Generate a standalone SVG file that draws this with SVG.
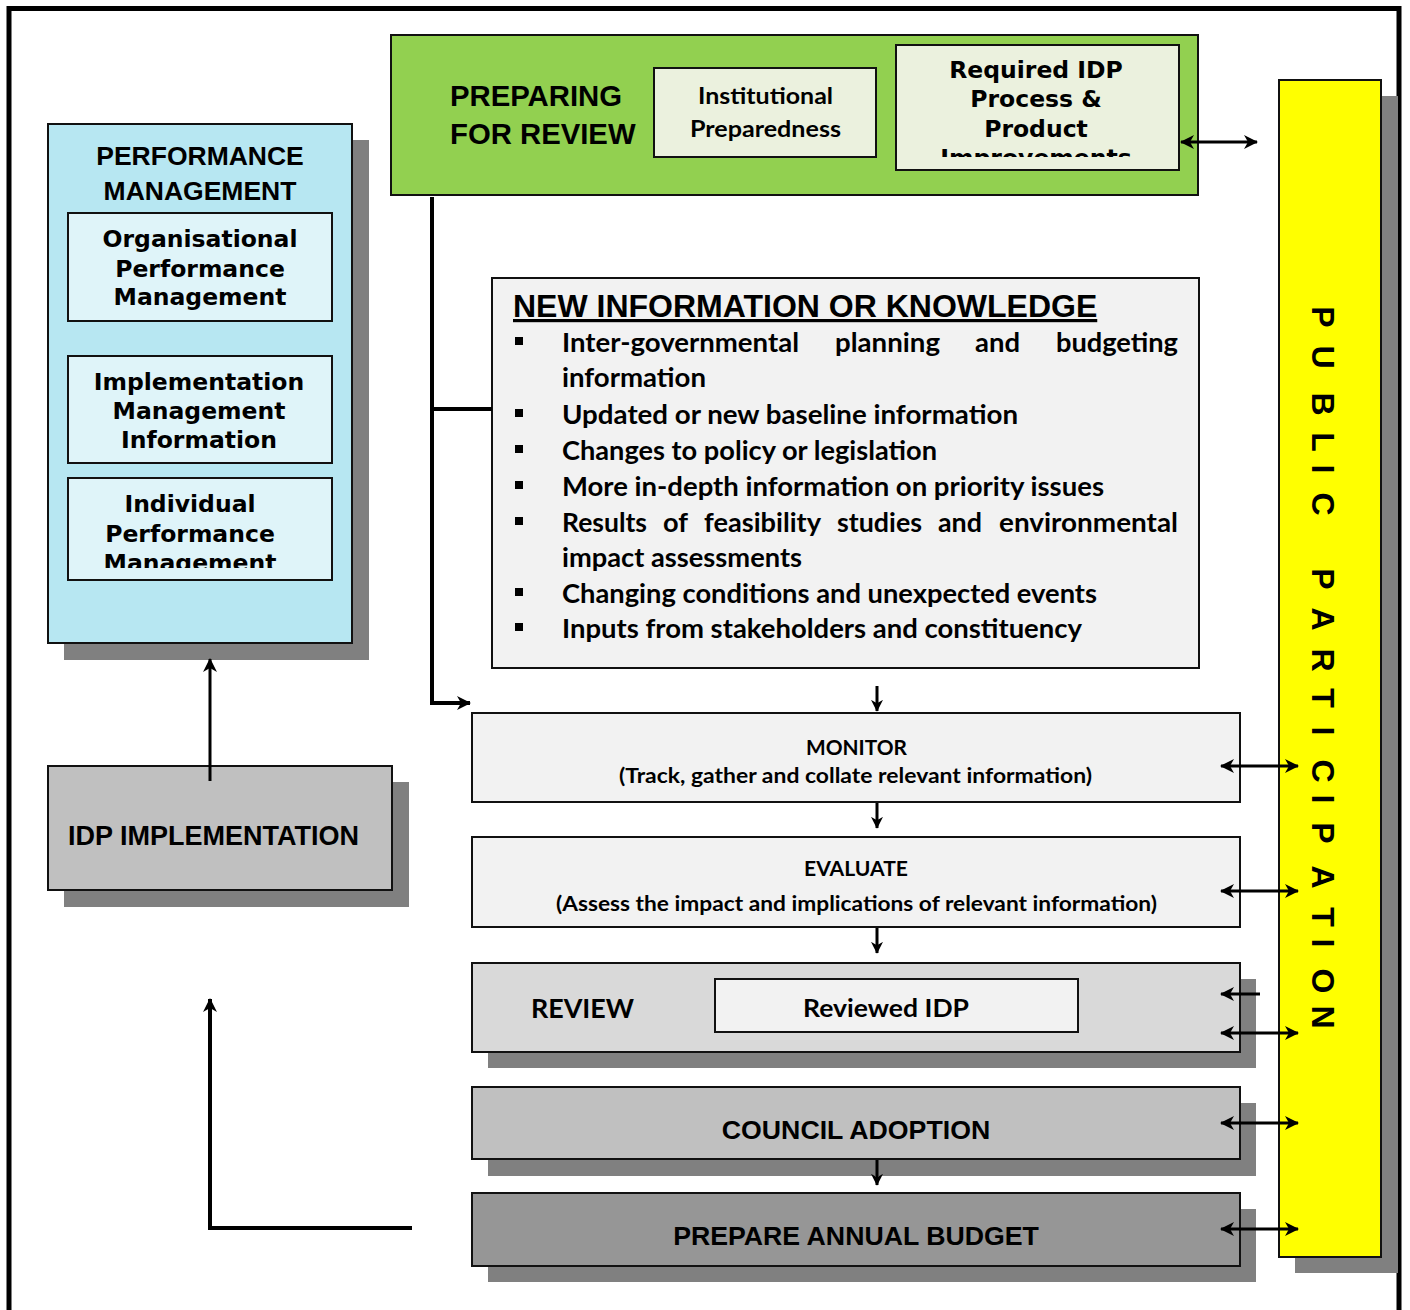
<svg xmlns="http://www.w3.org/2000/svg" width="1410" height="1310" viewBox="0 0 1410 1310">
  <defs>
    <style>
      .box { stroke: #111; stroke-width: 2; }
      .shadow { fill: #808080; }
      .v { font-family: "DejaVu Sans", Verdana, sans-serif; font-weight: bold; font-size: 23.5px; text-anchor: middle; fill: #000; }
      .a { font-family: "Liberation Sans", Arial, sans-serif; font-weight: bold; fill: #000; }
      .c { font-family: Lato, "Liberation Sans", sans-serif; font-weight: bold; fill: #000; }
      .conn { fill: none; stroke: #000; stroke-width: 3; }
      .thick { stroke-width: 4; }
    </style>
    <marker id="arrow" viewBox="0 0 14 14" refX="13" refY="7" markerWidth="14" markerHeight="14" markerUnits="userSpaceOnUse" orient="auto-start-reverse">
      <path d="M0,0 L14,7 L0,14 L4,7 z" fill="#000"/>
    </marker>
    <marker id="arrowSmall" viewBox="0 0 14 14" refX="13" refY="7" markerWidth="12" markerHeight="12" markerUnits="userSpaceOnUse" orient="auto-start-reverse">
      <path d="M0,0 L14,7 L0,14 L4,7 z" fill="#000"/>
    </marker>
    <clipPath id="clipRequired"><rect x="896" y="45" width="280" height="112"/></clipPath>
    <clipPath id="clipIndividual"><rect x="69" y="479" width="262" height="89"/></clipPath>
  </defs>

  <rect x="0" y="0" width="1410" height="1310" fill="#fff"/>
  <!-- page frame, open at the bottom -->
  <rect x="9" y="8.5" width="1390" height="1330" fill="none" stroke="#000" stroke-width="5"/>

  <!-- Performance management panel -->
  <g id="performance-management">
    <rect class="shadow" x="64" y="140" width="305" height="520"/>
    <rect class="box" x="48" y="124" width="304" height="519" fill="#b7e7f2"/>
    <text class="a" x="200" y="165" font-size="26.5" text-anchor="middle">PERFORMANCE</text>
    <text class="a" x="200" y="200" font-size="26.5" text-anchor="middle">MANAGEMENT</text>
  </g>
  <g id="organisational-performance">
    <rect class="box" x="68" y="213" width="264" height="108" fill="#dff4f9"/>
    <text class="v" x="200" y="247">Organisational</text>
    <text class="v" x="200" y="277">Performance</text>
    <text class="v" x="200" y="305">Management</text>
  </g>
  <g id="implementation-information">
    <rect class="box" x="68" y="356" width="264" height="107" fill="#dff4f9"/>
    <text class="v" x="199" y="390">Implementation</text>
    <text class="v" x="199" y="419">Management</text>
    <text class="v" x="199" y="448">Information</text>
  </g>
  <g id="individual-performance">
    <rect class="box" x="68" y="478" width="264" height="102" fill="#dff4f9"/>
    <g clip-path="url(#clipIndividual)">
      <text class="v" x="190" y="512">Individual</text>
      <text class="v" x="190" y="542">Performance</text>
      <text class="v" x="190" y="571">Management</text>
    </g>
  </g>

  <!-- IDP implementation -->
  <g id="idp-implementation">
    <rect class="shadow" x="64" y="782" width="345" height="125"/>
    <rect class="box" x="48" y="766" width="344" height="124" fill="#c0c0c0"/>
    <text class="a" x="68" y="845" font-size="27">IDP IMPLEMENTATION</text>
  </g>

  <!-- Preparing for review -->
  <g id="preparing-for-review">
    <rect class="box" x="391" y="35" width="807" height="160" fill="#92d050"/>
    <text class="a" x="450" y="106" font-size="29.3">PREPARING</text>
    <text class="a" x="450" y="144" font-size="29.3">FOR REVIEW</text>
  </g>
  <g id="institutional-preparedness">
    <rect class="box" x="654" y="68" width="222" height="89" fill="#ebf1de"/>
    <text class="c" x="698" y="104" font-size="23.5" textLength="135" lengthAdjust="spacingAndGlyphs">Institutional</text>
    <text class="c" x="690" y="137" font-size="23.5" textLength="151" lengthAdjust="spacingAndGlyphs">Preparedness</text>
  </g>
  <g id="required-improvements">
    <rect class="box" x="896" y="45" width="283" height="125" fill="#ebf1de"/>
    <g clip-path="url(#clipRequired)">
      <text class="v" x="1036" y="78">Required IDP</text>
      <text class="v" x="1036" y="107">Process &amp;</text>
      <text class="v" x="1036" y="137">Product</text>
      <text class="v" x="1036" y="166">Improvements</text>
    </g>
  </g>

  <!-- New information or knowledge -->
  <g id="new-information">
    <rect class="box" x="492" y="278" width="707" height="390" fill="#f2f2f2"/>
    <text class="a" x="513" y="317" font-size="32" text-decoration="underline">NEW INFORMATION OR KNOWLEDGE</text>
    <g fill="#000">
      <rect x="515" y="337" width="8" height="8"/>
      <rect x="515" y="409" width="8" height="8"/>
      <rect x="515" y="445" width="8" height="8"/>
      <rect x="515" y="481" width="8" height="8"/>
      <rect x="515" y="517" width="8" height="8"/>
      <rect x="515" y="588" width="8" height="8"/>
      <rect x="515" y="623" width="8" height="8"/>
    </g>
    <g font-size="26.5">
      <text class="c" x="562" y="352" textLength="237" lengthAdjust="spacingAndGlyphs">Inter-governmental</text>
      <text class="c" x="835" y="352" textLength="105" lengthAdjust="spacingAndGlyphs">planning</text>
      <text class="c" x="975" y="352" textLength="45" lengthAdjust="spacingAndGlyphs">and</text>
      <text class="c" x="1056" y="352" textLength="122" lengthAdjust="spacingAndGlyphs">budgeting</text>
      <text class="c" x="562" y="387" textLength="144" lengthAdjust="spacingAndGlyphs">information</text>
      <text class="c" x="562" y="424" textLength="456" lengthAdjust="spacingAndGlyphs">Updated or new baseline information</text>
      <text class="c" x="562" y="460" textLength="375" lengthAdjust="spacingAndGlyphs">Changes to policy or legislation</text>
      <text class="c" x="562" y="496" textLength="542" lengthAdjust="spacingAndGlyphs">More in-depth information on priority issues</text>
      <text class="c" x="562" y="532" textLength="85" lengthAdjust="spacingAndGlyphs">Results</text>
      <text class="c" x="663" y="532" textLength="25" lengthAdjust="spacingAndGlyphs">of</text>
      <text class="c" x="704" y="532" textLength="117" lengthAdjust="spacingAndGlyphs">feasibility</text>
      <text class="c" x="837" y="532" textLength="85" lengthAdjust="spacingAndGlyphs">studies</text>
      <text class="c" x="938" y="532" textLength="44" lengthAdjust="spacingAndGlyphs">and</text>
      <text class="c" x="999" y="532" textLength="179" lengthAdjust="spacingAndGlyphs">environmental</text>
      <text class="c" x="562" y="567" textLength="240" lengthAdjust="spacingAndGlyphs">impact assessments</text>
      <text class="c" x="562" y="603" textLength="535" lengthAdjust="spacingAndGlyphs">Changing conditions and unexpected events</text>
      <text class="c" x="562" y="638" textLength="520" lengthAdjust="spacingAndGlyphs">Inputs from stakeholders and constituency</text>
    </g>
  </g>

  <!-- Review cycle -->
  <g id="monitor">
    <rect class="box" x="472" y="713" width="768" height="89" fill="#f2f2f2"/>
    <text class="c" x="806" y="755" font-size="20" textLength="101" lengthAdjust="spacingAndGlyphs">MONITOR</text>
    <text class="c" x="619" y="783" font-size="20" textLength="473" lengthAdjust="spacingAndGlyphs">(Track, gather and collate relevant information)</text>
  </g>
  <g id="evaluate">
    <rect class="box" x="472" y="837" width="768" height="90" fill="#f2f2f2"/>
    <text class="c" x="804" y="876" font-size="20" textLength="104" lengthAdjust="spacingAndGlyphs">EVALUATE</text>
    <text class="c" x="556" y="911" font-size="20" textLength="601" lengthAdjust="spacingAndGlyphs">(Assess the impact and implications of relevant information)</text>
  </g>
  <g id="review">
    <rect class="shadow" x="488" y="979" width="768" height="89"/>
    <rect class="box" x="472" y="963" width="768" height="89" fill="#d9d9d9"/>
    <text class="c" x="531" y="1018" font-size="27" textLength="103" lengthAdjust="spacingAndGlyphs">REVIEW</text>
  </g>
  <g id="reviewed-idp">
    <rect class="box" x="715" y="979" width="363" height="53" fill="#f2f2f2"/>
    <text class="c" x="803" y="1017" font-size="25" textLength="166" lengthAdjust="spacingAndGlyphs">Reviewed IDP</text>
  </g>
  <g id="council-adoption">
    <rect class="shadow" x="488" y="1103" width="768" height="73"/>
    <rect class="box" x="472" y="1087" width="768" height="72" fill="#c0c0c0"/>
    <text class="a" x="856" y="1139" font-size="26.7" text-anchor="middle">COUNCIL ADOPTION</text>
  </g>
  <g id="annual-budget">
    <rect class="shadow" x="488" y="1209" width="768" height="73"/>
    <rect class="box" x="472" y="1193" width="768" height="73" fill="#969696"/>
    <text class="a" x="856" y="1245" font-size="26.7" text-anchor="middle">PREPARE ANNUAL BUDGET</text>
  </g>

  <!-- Public participation bar -->
  <g id="public-participation">
    <rect class="shadow" x="1295" y="96" width="103" height="1177"/>
    <rect class="box" x="1279" y="80" width="102" height="1177" fill="#ffff00"/>
    <text class="a" font-size="32" text-anchor="middle" transform="translate(1312,0) rotate(90)" y="0" x="317 357 404 442 469 504 541 579 619 660 698 731 771 799 833 877 917 943 981 1017">PUBLIC PARTICIPATION</text>
  </g>

  <!-- Connectors -->
  <g id="connectors">
    <path class="conn thick" d="M432,197 V703 H470" marker-end="url(#arrow)"/>
    <path class="conn thick" d="M432,409 H492"/>
    <path class="conn" d="M877,686 V711" marker-end="url(#arrowSmall)"/>
    <path class="conn" d="M877,803 V828" marker-end="url(#arrowSmall)"/>
    <path class="conn" d="M877,928 V953" marker-end="url(#arrowSmall)"/>
    <path class="conn" d="M877,1160 V1185" marker-end="url(#arrowSmall)"/>
    <path class="conn" d="M210,781 V659" marker-end="url(#arrow)"/>
    <path class="conn thick" d="M412,1228 H210 V999" marker-end="url(#arrow)"/>
    <path class="conn" d="M1181,142 H1257" marker-start="url(#arrow)" marker-end="url(#arrow)"/>
    <path class="conn" d="M1221,766 H1298" marker-start="url(#arrow)" marker-end="url(#arrow)"/>
    <path class="conn" d="M1221,891 H1298" marker-start="url(#arrow)" marker-end="url(#arrow)"/>
    <path class="conn" d="M1260,994 H1221" marker-end="url(#arrow)"/>
    <path class="conn" d="M1221,1033 H1298" marker-start="url(#arrow)" marker-end="url(#arrow)"/>
    <path class="conn" d="M1221,1123 H1298" marker-start="url(#arrow)" marker-end="url(#arrow)"/>
    <path class="conn" d="M1221,1229 H1298" marker-start="url(#arrow)" marker-end="url(#arrow)"/>
  </g>
</svg>
